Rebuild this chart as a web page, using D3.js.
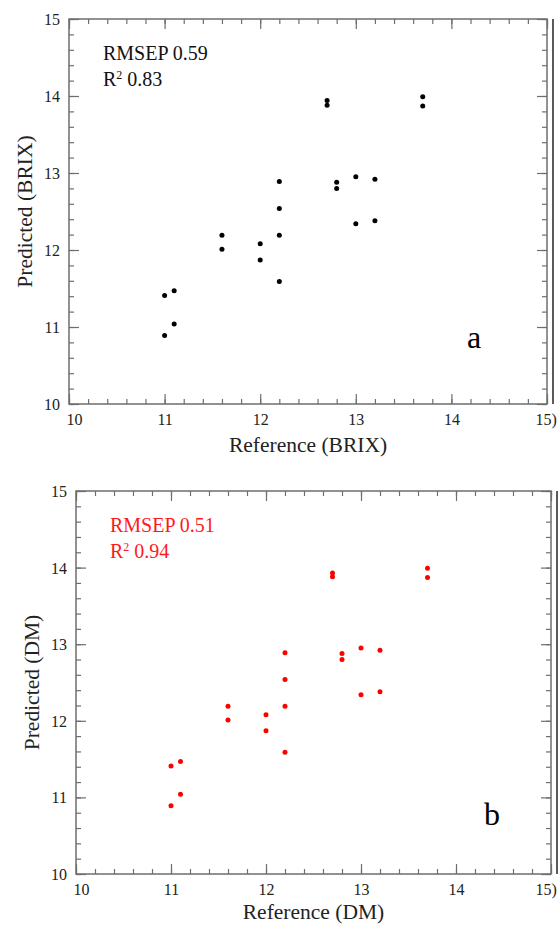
<!DOCTYPE html>
<html>
<head>
<meta charset="utf-8">
<script src="https://cdn.jsdelivr.net/npm/d3@7"></script>
<style>
  html, body { margin: 0; padding: 0; background: #fff; }
  svg { display: block; }
</style>
</head>
<body>
<svg id="chart" width="559" height="925"></svg>
<script>
// ---- Data ----
const brixReference = [11.0, 11.0, 11.1, 11.1, 11.6, 11.6, 12.0, 12.0, 12.2, 12.2, 12.2, 12.2, 12.7, 12.7, 12.8, 12.8, 13.0, 13.0, 13.2, 13.2, 13.7, 13.7];
const brixPredicted = [11.41, 10.89, 11.47, 11.04, 12.19, 12.01, 12.08, 11.87, 12.89, 12.54, 12.19, 11.59, 13.94, 13.88, 12.88, 12.80, 12.95, 12.34, 12.92, 12.38, 13.99, 13.87];
const dmReference = [11.0, 11.0, 11.1, 11.1, 11.6, 11.6, 12.0, 12.0, 12.2, 12.2, 12.2, 12.2, 12.7, 12.7, 12.8, 12.8, 13.0, 13.0, 13.2, 13.2, 13.7, 13.7];
const dmPredicted = [11.41, 10.89, 11.47, 11.04, 12.19, 12.01, 12.08, 11.87, 12.89, 12.54, 12.19, 11.59, 13.93, 13.88, 12.88, 12.80, 12.95, 12.34, 12.92, 12.38, 13.99, 13.87];
const axisDomain = [10, 15];
const majorTicks = [10, 11, 12, 13, 14, 15];
const xTickLabels = ["10", "11", "12", "13", "14", "15)"];
const minorTicks = d3.range(0, 26).map(i => 10 + i * 0.2);
const panelLabels = ["a", "b"];
const statsText = [["RMSEP 0.59", "0.83"], ["RMSEP 0.51", "0.94"]];
const xTitles = ["Reference (BRIX)", "Reference (DM)"];
const yTitles = ["Predicted (BRIX)", "Predicted (DM)"];

const FONT = "Liberation Serif";
const svg = d3.select("#chart").style("font-family", FONT);

const panels = [
  { L: 69, R: 547, T: 19, B: 404, outer: 553, xs: brixReference, ys: brixPredicted,
    dot: "#000", stat: "#111", label: panelLabels[0], stats: statsText[0],
    xt: xTitles[0], yt: yTitles[0], labelDx: 398, labelDy: 56, xtDy: 48, lastDx: -12 },
  { L: 76, R: 551, T: 491, B: 874, outer: 557, xs: dmReference, ys: dmPredicted,
    dot: "#ff0000", stat: "#ff1a1a", label: panelLabels[1], stats: statsText[1],
    xt: xTitles[1], yt: yTitles[1], labelDx: 408, labelDy: 49, xtDy: 45, lastDx: -16 }
];

const axisColor = "#6e6e6e";

panels.forEach(p => {
  const x = d3.scaleLinear().domain(axisDomain).range([p.L, p.R]);
  const y = d3.scaleLinear().domain(axisDomain).range([p.B, p.T]);
  const g = svg.append("g");

  function styleAxis(sel) {
    sel.select(".domain").remove();
    sel.attr("font-family", null);
    sel.selectAll(".tick line").attr("stroke", axisColor).attr("stroke-width", 1.2);
  }

  // minor ticks (inward)
  g.append("g").attr("transform", `translate(0,${p.B})`)
    .call(d3.axisBottom(x).tickValues(minorTicks).tickSize(-5).tickFormat(""))
    .call(styleAxis);
  g.append("g").attr("transform", `translate(0,${p.T})`)
    .call(d3.axisTop(x).tickValues(minorTicks).tickSize(-5).tickFormat(""))
    .call(styleAxis);
  g.append("g").attr("transform", `translate(${p.L},0)`)
    .call(d3.axisLeft(y).tickValues(minorTicks).tickSize(-5).tickFormat(""))
    .call(styleAxis);
  g.append("g").attr("transform", `translate(${p.R},0)`)
    .call(d3.axisRight(y).tickValues(minorTicks).tickSize(-5).tickFormat(""))
    .call(styleAxis);

  // major ticks
  const last = majorTicks.length - 1;
  const xb = g.append("g").attr("transform", `translate(0,${p.B})`)
    .call(d3.axisBottom(x).tickValues(majorTicks).tickSize(-10).tickPadding(0)
      .tickFormat((d, i) => xTickLabels[i]))
    .call(styleAxis);
  xb.selectAll(".tick text")
    .attr("y", 21).attr("dy", 0)
    .attr("fill", "#222").attr("font-size", 16)
    .style("font-family", FONT)
    .attr("text-anchor", (d, i) => i === last ? "start" : "middle")
    .attr("dx", (d, i) => i === 0 ? 5 : (i === last ? p.lastDx : 0));
  g.append("g").attr("transform", `translate(0,${p.T})`)
    .call(d3.axisTop(x).tickValues(majorTicks).tickSize(-10).tickFormat(""))
    .call(styleAxis);
  const yl = g.append("g").attr("transform", `translate(${p.L},0)`)
    .call(d3.axisLeft(y).tickValues(majorTicks).tickSize(-10).tickFormat(d3.format("d")))
    .call(styleAxis);
  yl.selectAll(".tick text")
    .attr("x", -9).attr("dy", "0.34em")
    .attr("fill", "#222").attr("font-size", 16)
    .style("font-family", FONT);
  g.append("g").attr("transform", `translate(${p.R},0)`)
    .call(d3.axisRight(y).tickValues(majorTicks).tickSize(-10).tickFormat(""))
    .call(styleAxis);

  // frame
  g.append("rect")
    .attr("x", p.L).attr("y", p.T)
    .attr("width", p.R - p.L).attr("height", p.B - p.T)
    .attr("fill", "none").attr("stroke", axisColor).attr("stroke-width", 1.5);

  // outer right line
  g.append("line")
    .attr("x1", p.outer).attr("x2", p.outer)
    .attr("y1", p.T).attr("y2", p.B)
    .attr("stroke", "#333").attr("stroke-width", 1.6);

  // points
  g.append("g").selectAll("circle")
    .data(p.xs.map((v, i) => [v, p.ys[i]]))
    .join("circle")
    .attr("cx", d => x(d[0]))
    .attr("cy", d => y(d[1]))
    .attr("r", 2.5)
    .attr("fill", p.dot);

  // stats text
  g.append("text")
    .attr("x", p.L + 34).attr("y", p.T + 41)
    .attr("font-size", 20).attr("fill", p.stat)
    .style("font-family", FONT)
    .text(p.stats[0]);
  const st2 = g.append("text")
    .attr("x", p.L + 34).attr("y", p.T + 66.5)
    .attr("font-size", 20).attr("fill", p.stat)
    .style("font-family", FONT);
  st2.append("tspan").text("R");
  st2.append("tspan").attr("font-size", 12).attr("dy", -7).text("2");
  st2.append("tspan").attr("dy", 7).text(" " + p.stats[1]);

  // panel label
  g.append("text")
    .attr("x", p.L + p.labelDx).attr("y", p.B - p.labelDy)
    .attr("font-size", 32).attr("fill", "#000")
    .style("font-family", FONT)
    .text(p.label);

  // axis titles
  g.append("text")
    .attr("x", (p.L + p.R) / 2).attr("y", p.B + p.xtDy)
    .attr("text-anchor", "middle")
    .attr("font-size", 21.5).attr("fill", "#222")
    .style("font-family", FONT)
    .text(p.xt);
  g.append("text")
    .attr("transform", `translate(${p.L - 37},${(p.T + p.B) / 2}) rotate(-90)`)
    .attr("text-anchor", "middle")
    .attr("font-size", 21.5).attr("fill", "#222")
    .style("font-family", FONT)
    .text(p.yt);
});
</script>
</body>
</html>
